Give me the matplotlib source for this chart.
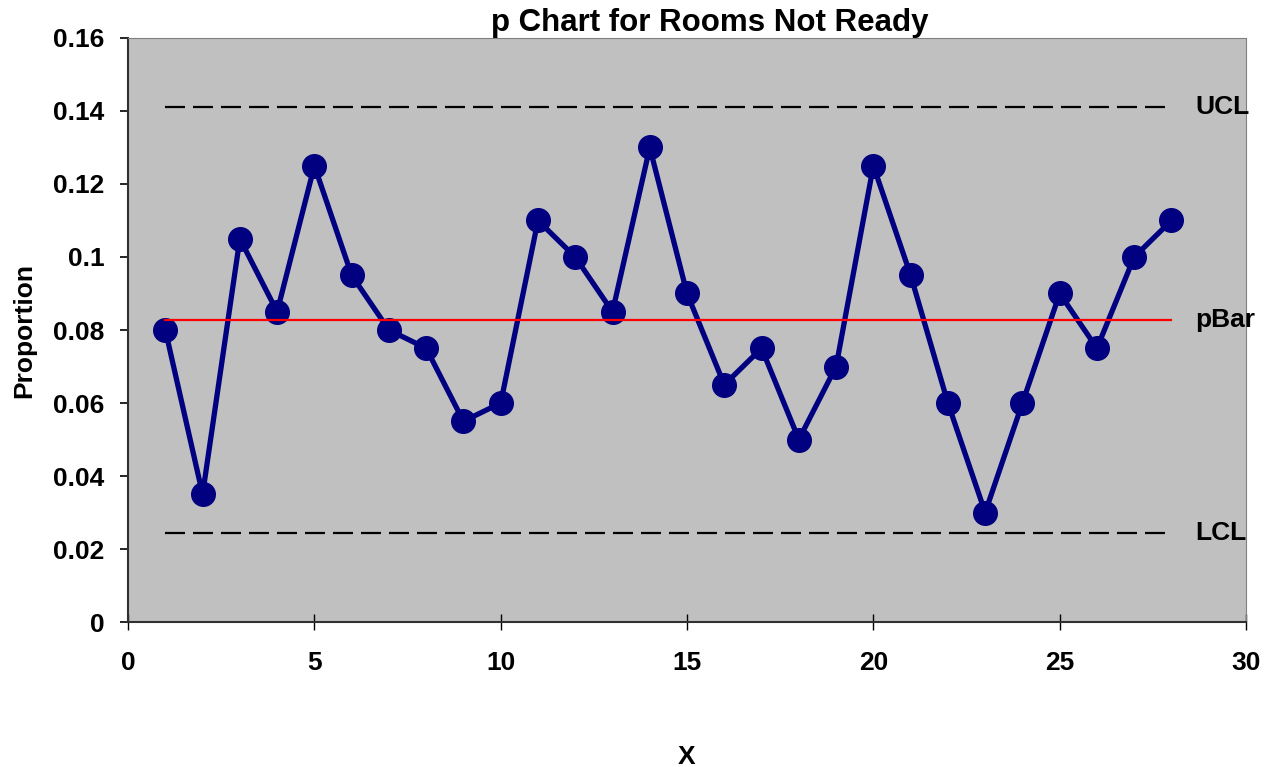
import matplotlib
matplotlib.use("Agg")
import matplotlib.pyplot as plt

# sample proportions
samples = list(range(1, 29))
proportion = [0.08, 0.035, 0.105, 0.085, 0.125, 0.095, 0.08, 0.075, 0.055, 0.06,
              0.11, 0.10, 0.085, 0.13, 0.09, 0.065, 0.075, 0.05, 0.07, 0.125,
              0.095, 0.06, 0.03, 0.06, 0.09, 0.075, 0.10, 0.11]
pbar = 0.0827
ucl = 0.1411
lcl = 0.0243

plt.rcParams['font.family'] = ['Liberation Sans', 'DejaVu Sans']
plt.rcParams['font.weight'] = 'bold'

fig = plt.figure(figsize=(12.73, 7.67), dpi=100)
ax = fig.add_axes([0.1006, 0.189, 0.8782, 0.7615])
ax.set_facecolor('#c0c0c0')

x_ends = [samples[0], samples[-1]]
ax.plot(x_ends, [ucl, ucl], color='black', lw=1.6, dashes=(9, 3.6), zorder=2)
ax.plot(x_ends, [lcl, lcl], color='black', lw=1.6, dashes=(9, 3.6), zorder=2)
ax.plot(samples, proportion, color='#000080', lw=3.8, marker='o', ms=17, zorder=3)
ax.plot(x_ends, [pbar, pbar], color='red', lw=1.6, zorder=4)

lx = samples[-1] + 0.65
ax.text(lx, ucl, 'UCL', fontsize=19, fontweight='bold', va='center')
ax.text(lx, pbar, 'pBar', fontsize=19, fontweight='bold', va='center')
ax.text(lx, lcl, 'LCL', fontsize=19, fontweight='bold', va='center')

ax.set_xlim(0, 30)
ax.set_ylim(0, 0.16)
ax.set_xticks([0, 5, 10, 15, 20, 25, 30])
ax.set_yticks([0, 0.02, 0.04, 0.06, 0.08, 0.1, 0.12, 0.14, 0.16])
ax.set_yticklabels(['0', '0.02', '0.04', '0.06', '0.08', '0.1', '0.12', '0.14', '0.16'])
ax.tick_params(axis='x', direction='inout', length=12, width=1, labelsize=19, pad=15)
ax.tick_params(axis='y', direction='out', length=6, width=1.2, labelsize=19, pad=11)
for lab in ax.get_xticklabels() + ax.get_yticklabels():
    lab.set_fontweight('bold')

ax.spines['left'].set_color('#303030')
ax.spines['left'].set_linewidth(1.5)
ax.spines['bottom'].set_color('#303030')
ax.spines['bottom'].set_linewidth(1.5)
ax.spines['top'].set_color('#808080')
ax.spines['right'].set_color('#808080')

ax.set_title('p Chart for Rooms Not Ready', fontsize=22.5, fontweight='bold',
             x=0.52, pad=-4)
ax.set_xlabel('X', fontsize=19, fontweight='bold', labelpad=50)
ax.set_ylabel('Proportion', fontsize=19, fontweight='bold', labelpad=12)

fig.savefig('out.png', dpi=100)
